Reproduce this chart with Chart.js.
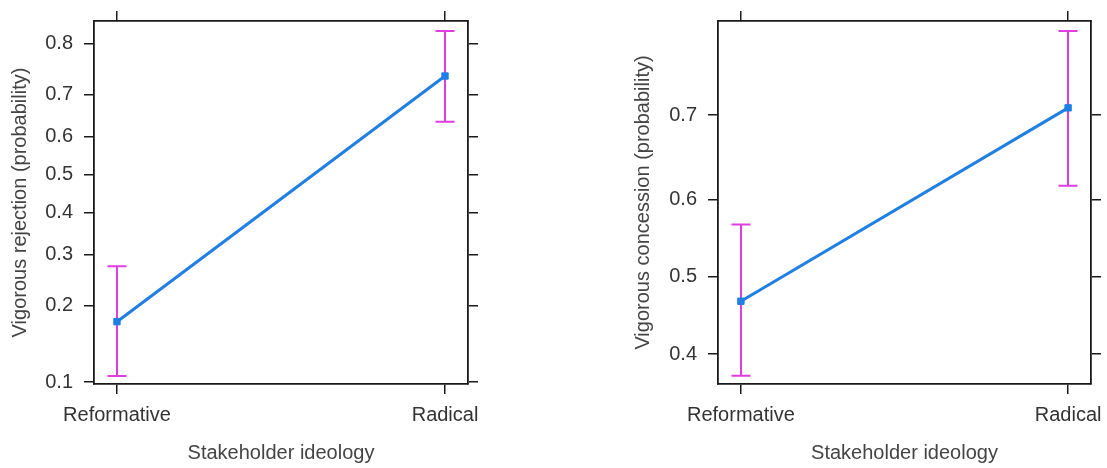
<!DOCTYPE html>
<html>
<head>
<meta charset="utf-8">
<script src="https://cdn.jsdelivr.net/npm/chart.js@4"></script>
<style>
  html, body { margin: 0; padding: 0; background: #fff; }
  body { width: 1107px; height: 468px; position: relative; overflow: hidden; }
  canvas { position: absolute; top: 0; }
  #left { left: 0; }
  #right { left: 553px; }
</style>
</head>
<body>
<canvas id="left" width="553" height="468"></canvas>
<canvas id="right" width="554" height="468"></canvas>
<script>
const categories = ['Reformative', 'Radical'];

const rejectionFit = [0.174, 0.740];
const rejectionLower = [0.106, 0.637];
const rejectionUpper = [0.275, 0.821];
const rejectionTicks = [0.1, 0.2, 0.3, 0.4, 0.5, 0.6, 0.7, 0.8];

const concessionFit = [0.468, 0.708];
const concessionLower = [0.373, 0.617];
const concessionUpper = [0.568, 0.784];
const concessionTicks = [0.4, 0.5, 0.6, 0.7];

const BLUE = '#1f7fe3';
const MAGENTA = '#e03ce0';
const FRAME = '#1a1a1a';

const logit = p => Math.log(p / (1 - p));

// confidence intervals, drawn under the line
const errorBars = {
    id: 'errorBars',
    beforeDatasetsDraw(chart, _, opts) {
        const { ctx, scales: { x, y } } = chart;
        ctx.save();
        ctx.strokeStyle = MAGENTA;
        ctx.lineWidth = 2;
        opts.lower.forEach((lo, i) => {
            const px = Math.round(x.getPixelForValue(i));
            const y0 = y.getPixelForValue(logit(lo));
            const y1 = y.getPixelForValue(logit(opts.upper[i]));
            ctx.beginPath();
            ctx.moveTo(px, y0);
            ctx.lineTo(px, y1);
            ctx.moveTo(px - 9.5, y0);
            ctx.lineTo(px + 9.5, y0);
            ctx.moveTo(px - 9.5, y1);
            ctx.lineTo(px + 9.5, y1);
            ctx.stroke();
        });
        ctx.restore();
    }
};

// pin every axis box to a set size so the plot frame lands where it should
function fixed(size) {
    return s => {
        if (s.isHorizontal()) s.height = size;
        else s.width = size;
        s.paddingLeft = s.paddingRight = s.paddingTop = s.paddingBottom = 0;
    };
}

function probTicks(list) {
    return s => { s.ticks = list.map(p => ({ value: logit(p) })); };
}

const catTicks = s => { s.ticks = categories.map((_, i) => ({ value: i })); };

function frameAxis(position, extra) {
    return Object.assign({
        position,
        border: { display: true, color: FRAME, width: 1.8 },
        grid: { drawOnChartArea: false, drawTicks: true, tickLength: 10, color: FRAME, lineWidth: 1.5 },
    }, extra);
}

function panel(id, cfg) {
    const yRange = { min: cfg.yMin, max: cfg.yMax };
    const xRange = { type: 'linear', min: -0.07, max: 1.07 };
    const tickFont = { family: 'Liberation Sans, Arial, sans-serif', size: 20 };

    return new Chart(document.getElementById(id), {
        type: 'line',
        data: {
            datasets: [{
                data: cfg.fit.map((p, i) => ({ x: i, y: logit(p) })),
                borderColor: BLUE,
                backgroundColor: BLUE,
                borderWidth: 3,
                pointStyle: 'rect',
                pointRadius: 4.5,
                pointBorderWidth: 1,
                tension: 0,
            }],
        },
        options: {
            responsive: false,
            animation: false,
            devicePixelRatio: 1,
            layout: { padding: { top: 1 } },
            plugins: {
                legend: { display: false },
                tooltip: { enabled: false },
                errorBars: { lower: cfg.lower, upper: cfg.upper },
            },
            scales: {
                x: frameAxis('bottom', Object.assign({}, xRange, {
                    afterFit: fixed(84),
                    afterBuildTicks: catTicks,
                    ticks: {
                        padding: 9,
                        color: '#333',
                        font: tickFont,
                        maxRotation: 0,
                        callback: (v) => categories[v],
                    },
                    title: {
                        display: true,
                        text: 'Stakeholder ideology',
                        color: '#444',
                        font: tickFont,
                        padding: { top: 0, bottom: 3 },
                    },
                })),
                x2: frameAxis('top', Object.assign({}, xRange, {
                    afterFit: fixed(20),
                    afterBuildTicks: catTicks,
                    ticks: { display: false },
                })),
                y: frameAxis('left', Object.assign({}, yRange, {
                    afterFit: fixed(cfg.leftWidth),
                    afterBuildTicks: probTicks(cfg.ticks),
                    ticks: {
                        padding: 11,
                        color: '#333',
                        font: tickFont,
                        callback: (v, i) => String(cfg.ticks[i]),
                    },
                    title: {
                        display: true,
                        text: cfg.title,
                        color: '#444',
                        font: tickFont,
                        padding: { top: cfg.titlePad, bottom: 0 },
                    },
                })),
                y2: frameAxis('right', Object.assign({}, yRange, {
                    afterFit: fixed(cfg.rightWidth),
                    afterBuildTicks: probTicks(cfg.ticks),
                    ticks: { display: false },
                })),
            },
        },
        plugins: [errorBars],
    });
}

panel('left', {
    title: 'Vigorous rejection (probability)',
    fit: rejectionFit,
    lower: rejectionLower,
    upper: rejectionUpper,
    ticks: rejectionTicks,
    yMin: -2.218,
    yMax: 1.629,
    leftWidth: 94,
    rightWidth: 85,
    titlePad: 8,
});

panel('right', {
    title: 'Vigorous concession (probability)',
    fit: concessionFit,
    lower: concessionLower,
    upper: concessionUpper,
    ticks: concessionTicks,
    yMin: -0.562,
    yMax: 1.341,
    leftWidth: 165,
    rightWidth: 16,
    titlePad: 78,
});
</script>
</body>
</html>
